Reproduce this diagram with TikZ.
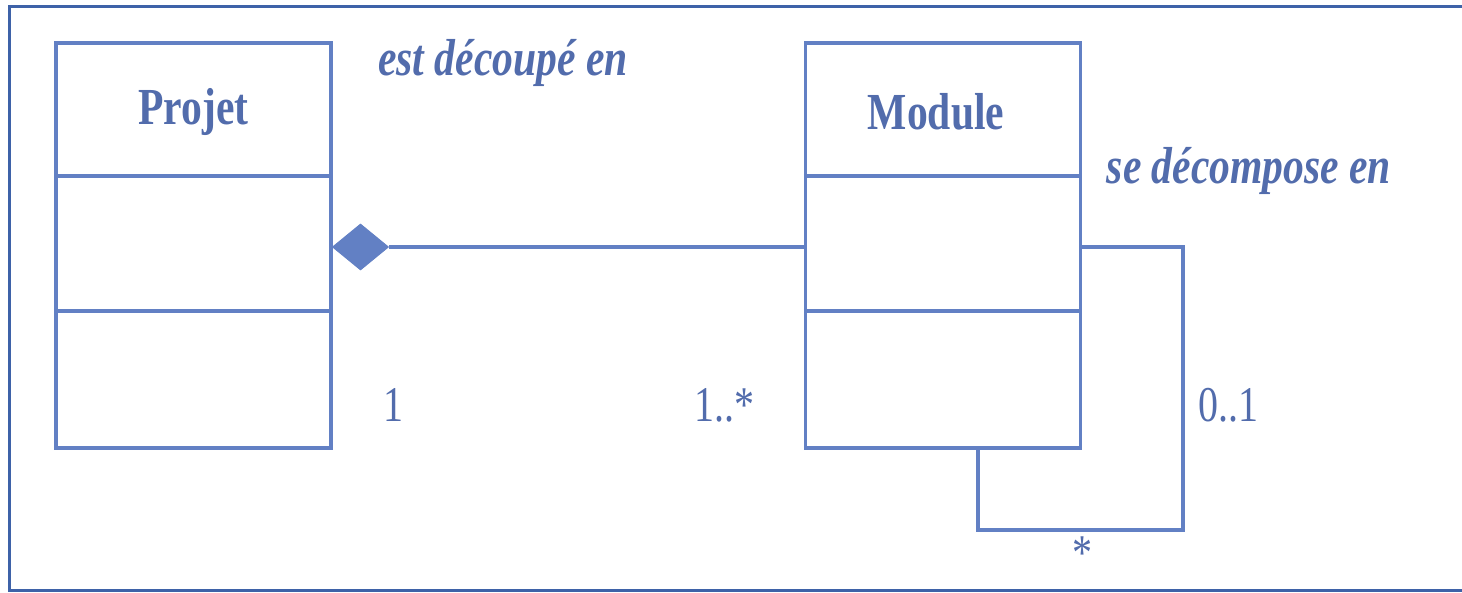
\documentclass[tikz,border=0pt]{standalone}
\usepackage{fontspec}
\setmainfont{Liberation Serif}
\usetikzlibrary{shapes.geometric}
\definecolor{umlline}{RGB}{98,128,196}
\definecolor{umltext}{RGB}{82,108,172}
\definecolor{framec}{RGB}{62,98,168}
\newcommand{\sqz}[1]{\scalebox{0.8}[1]{#1}}
\tikzset{
  classbox/.style={draw=umlline, line width=3.5pt, minimum width=275pt, minimum height=405pt, inner sep=0pt},
  classtitle/.style={text=umltext, font=\fontsize{52}{52}\selectfont\bfseries, inner sep=0pt},
  rolelabel/.style={text=umltext, font=\fontsize{52}{52}\selectfont\bfseries\itshape, inner sep=0pt},
  multlabel/.style={text=umltext, font=\fontsize{50}{50}\selectfont, inner sep=0pt},
  conn/.style={draw=umlline, line width=3.5pt},
}
\begin{document}
\begin{tikzpicture}[x=1pt, y=-1pt]
\useasboundingbox (0,0) rectangle (1462,593);
% frame
\draw[framec, line width=3pt] (1462,7) -- (9,7) -- (9,590) -- (1462,590);
% Projet class
\node[classbox] (projet) at (193.5,245.5) {};
\draw[conn] ([yshift=-135pt]projet.north west) -- ([yshift=-135pt]projet.north east);
\draw[conn] ([yshift=-270pt]projet.north west) -- ([yshift=-270pt]projet.north east);
\node[classtitle] (projett) at (193.5,112) {\sqz{Projet}};
% Module class
\node[classbox] (module) at (943,245.5) {};
\draw[conn] ([yshift=-135pt]module.north west) -- ([yshift=-135pt]module.north east);
\draw[conn] ([yshift=-270pt]module.north west) -- ([yshift=-270pt]module.north east);
\node[classtitle] (modulet) at (936,112) {\sqz{Module}};
% composition
\node[diamond, fill=umlline, draw=umlline, line width=1pt, minimum width=56pt, minimum height=46pt, inner sep=0pt, anchor=west] (dia) at (332,247) {};
\draw[conn] (dia.east) -- (module.west |- dia.east);
% self association
\coordinate (loopc) at (1183,530);
\coordinate (loopend) at (978,448);
\draw[conn] (module.east |- dia.east) -| (loopc) -| (loopend);
% labels
\node[rolelabel] (l1) at (503,63) {\sqz{est découpé en}};
\node[rolelabel] (l2) at (1249,171) {\sqz{se décompose en}};
\node[multlabel] (m1) at (393,405) {\sqz{1}};
\node[multlabel] (m2) at (724,405) {\sqz{1..*}};
\node[multlabel] (m3) at (1228,405) {\sqz{0..1}};
\node[multlabel] (m4) at (1082,553) {\sqz{*}};
\end{tikzpicture}
\end{document}
